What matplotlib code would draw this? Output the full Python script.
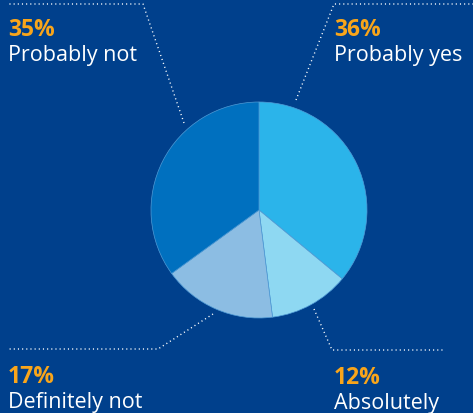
import matplotlib.pyplot as plt

# survey answers, clockwise from 12 o'clock
labels = ["Probably yes", "Absolutely", "Definitely not", "Probably not"]
shares = [36, 12, 17, 35]
colors = ["#2bb4ea", "#8ed8f2", "#8cbde3", "#0070bf"]

bg = "#00408c"
orange = "#f9a51a"
W, H = 473, 414

fig = plt.figure(figsize=(W / 100, H / 100), dpi=100, facecolor=bg)
ax = fig.add_axes([0, 0, 1, 1])
ax.set_facecolor(bg)

ax.pie(shares, colors=colors, startangle=90, counterclock=False,
       center=(259, H - 211), radius=108, frame=True,
       wedgeprops=dict(linewidth=0.5, edgecolor="#4f9bd6"))
ax.set_xlim(0, W)
ax.set_ylim(0, H)
ax.set_aspect("equal")
ax.axis("off")

# leader lines (image coords, y down)
leaders = {
    "Probably not": [(184, 124), (143, 5), (8, 5)],
    "Probably yes": [(296, 101), (334, 5), (473, 5)],
    "Definitely not": [(213, 315), (158, 350), (8, 350)],
    "Absolutely": [(314, 310), (332, 351), (444, 351)],
}
for pts in leaders.values():
    xs = [p[0] for p in pts]
    ys = [H - p[1] for p in pts]
    ax.plot(xs, ys, color="white", lw=1.0, ls=(0, (0.8, 2.2)),
            dash_capstyle="butt")

# label anchors: (x, baseline of pct, baseline of name) in image coords
anchors = {
    "Probably yes": (334, 36, 61),
    "Absolutely": (334, 384, 409),
    "Definitely not": (8, 383, 408),
    "Probably not": (8, 36, 61),
}
font = ["Open Sans", "DejaVu Sans"]
for lab, val in zip(labels, shares):
    x, yp, yn = anchors[lab]
    ax.text(x, H - yp, f"{val}%", color=orange, fontsize=16.5, fontweight="bold",
            family=font, ha="left", va="baseline")
    ax.text(x, H - yn, lab, color="white", fontsize=15.5,
            family=font, ha="left", va="baseline")

fig.savefig("out.png", dpi=100, facecolor=bg)
